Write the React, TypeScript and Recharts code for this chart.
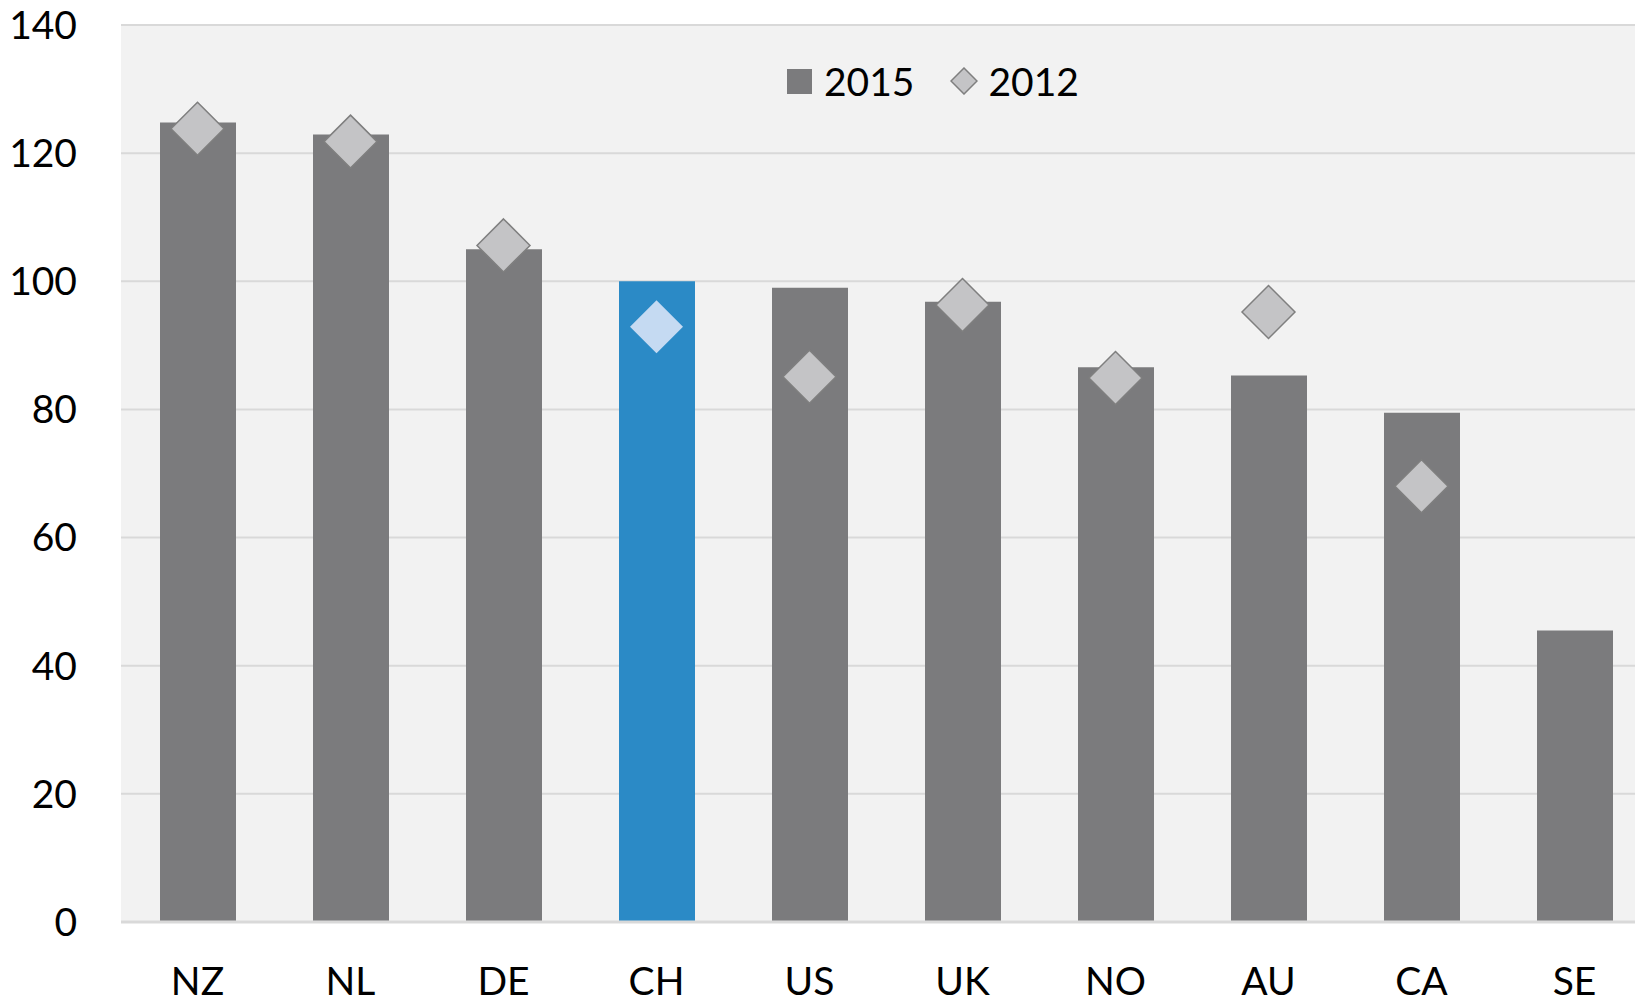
import { Bar, CartesianGrid, Cell, ComposedChart, Line, XAxis, YAxis } from "recharts";

const countries = ["NZ", "NL", "DE", "CH", "US", "UK", "NO", "AU", "CA", "SE"];
const values2015 = [124.8, 122.9, 105.0, 100.0, 99.0, 96.8, 86.6, 85.3, 79.5, 45.5];
const values2012: (number | null)[] = [123.8, 121.8, 105.6, 92.9, 85.1, 96.3, 84.9, 95.2, 68.0, null];
const yTicks = [0, 20, 40, 60, 80, 100, 120, 140];

const highlight = "CH";
const FONT = "Lato, 'Open Sans', sans-serif";
const FS = 39;

const data = countries.map((c, i) => ({
  country: c,
  y2015: values2015[i],
  y2012: values2012[i],
}));

const Diamond = (props: any) => {
  const { cx, cy, payload } = props;
  if (cx == null || cy == null || payload?.y2012 == null) return null;
  const r = 26.5;
  const isHl = payload.country === highlight;
  return (
    <polygon
      key={payload.country}
      points={`${cx},${cy - r} ${cx + r},${cy} ${cx},${cy + r} ${cx - r},${cy}`}
      fill={isHl ? "#c5daf2" : "#c4c4c6"}
      stroke={isHl ? "none" : "#7f7f7f"}
      strokeWidth={1.5}
    />
  );
};

// legend drawn as an overlay so it doesn't shrink the plot area
const LegendBox = () => (
  <div
    style={{
      position: "absolute",
      top: 58,
      left: 787,
      display: "flex",
      alignItems: "center",
      fontFamily: FONT,
      fontSize: FS,
      color: "#000",
      lineHeight: "46px",
    }}
  >
    <svg width={25} height={25} style={{ marginRight: 12 }}>
      <rect x={0} y={0} width={25} height={25} fill="#7b7b7d" />
    </svg>
    <span>2015</span>
    <svg width={28} height={28} style={{ marginLeft: 36, marginRight: 10 }}>
      <polygon points="14,1 27,14 14,27 1,14" fill="#c4c4c6" stroke="#7f7f7f" strokeWidth={1.5} />
    </svg>
    <span>2012</span>
  </div>
);

export default function App() {
  return (
    <div style={{ position: "absolute", top: 0, left: 0, width: 1635, height: 998, overflow: "hidden", background: "#fff" }}>
      <ComposedChart
        width={1635}
        height={998}
        data={data}
        margin={{ top: 25, right: -16, left: 0, bottom: 0 }}
        barCategoryGap="50%"
      >
        <CartesianGrid vertical={false} fill="#f2f2f2" stroke="#d9d9d9" strokeWidth={2} />
        <XAxis
          dataKey="country"
          height={76}
          tickLine={false}
          tickSize={0}
          tickMargin={45}
          axisLine={{ stroke: "#d9d9d9", strokeWidth: 3 }}
          tick={{ fill: "#000", fontSize: FS, fontFamily: FONT }}
        />
        <YAxis
          width={121}
          domain={[0, 140]}
          ticks={yTicks}
          interval={0}
          axisLine={false}
          tickLine={false}
          tickSize={0}
          tickMargin={44}
          tick={{ fill: "#000", fontSize: FS, fontFamily: FONT }}
        />
        <Bar dataKey="y2015" name="2015" fill="#7b7b7d" barSize={76} isAnimationActive={false}>
          {data.map((d) => (
            <Cell key={d.country} fill={d.country === highlight ? "#2b8ac6" : "#7b7b7d"} />
          ))}
        </Bar>
        <Line
          dataKey="y2012"
          name="2012"
          stroke="none"
          strokeWidth={0}
          dot={<Diamond />}
          activeDot={false}
          isAnimationActive={false}
        />
      </ComposedChart>
      <LegendBox />
    </div>
  );
}
